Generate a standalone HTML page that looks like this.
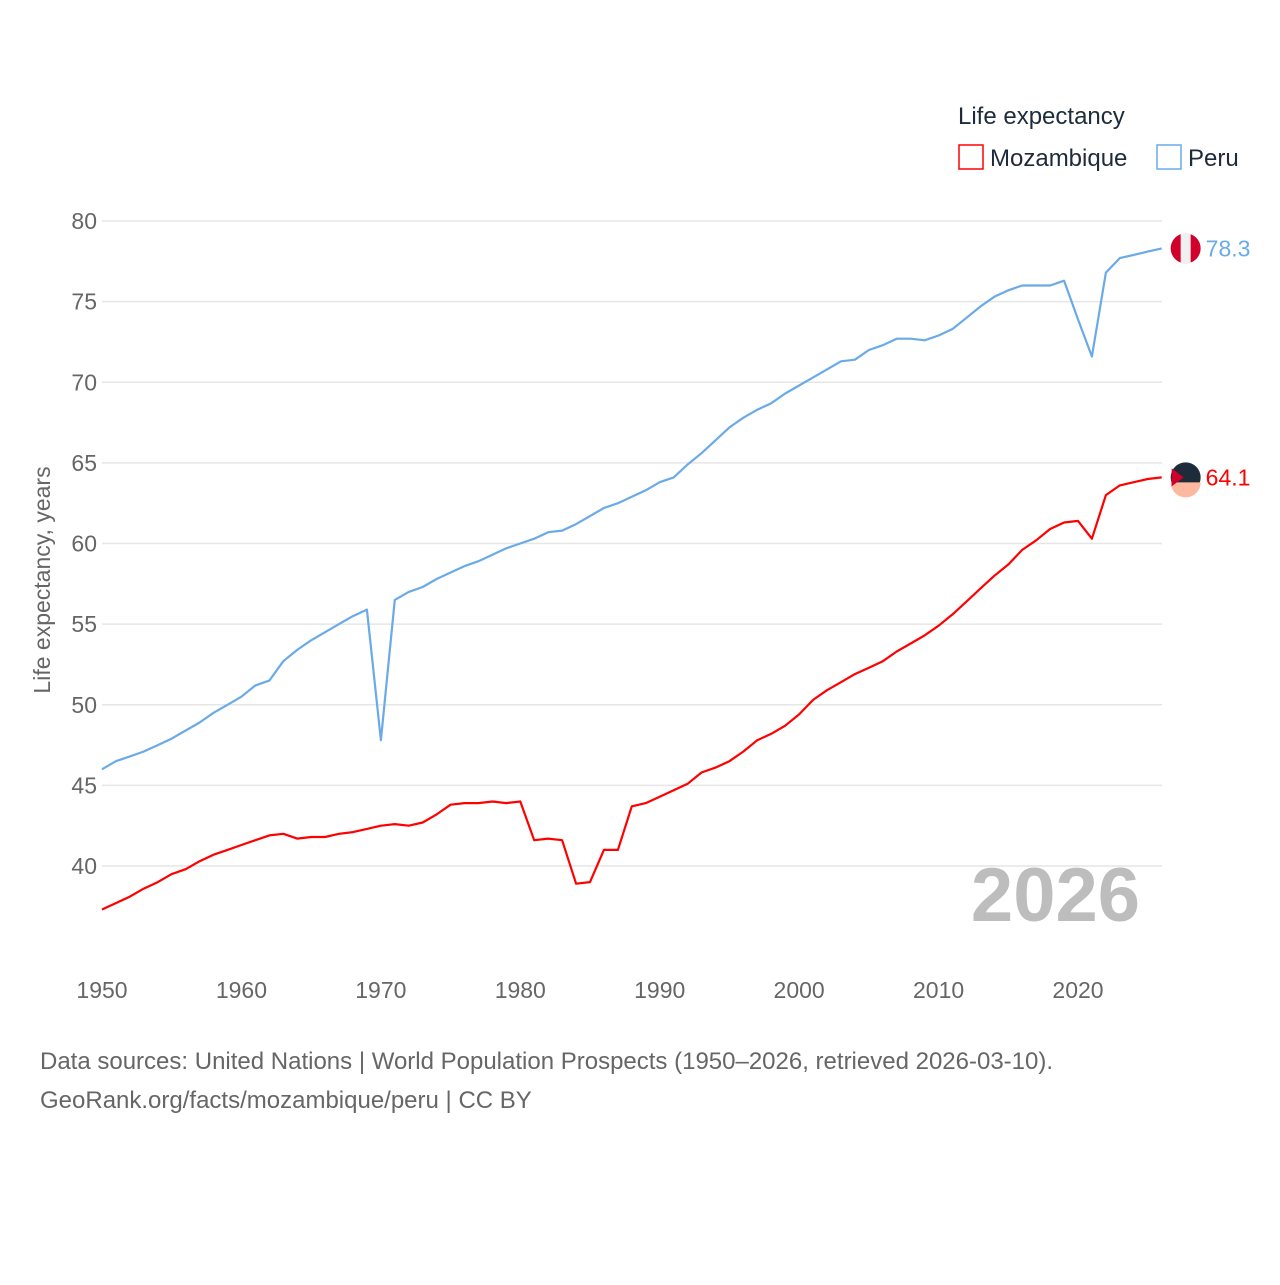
<!DOCTYPE html>
<html><head><meta charset="utf-8"><style>
body{margin:0;background:#fff;width:1280px;height:1280px;overflow:hidden;font-family:"Liberation Sans",sans-serif}
svg text{font-family:"Liberation Sans",sans-serif}
</style></head><body>
<svg id="chart" width="1280" height="1280" xmlns="http://www.w3.org/2000/svg">
<g id="grid"></g>
<g id="yticks"></g>
<g id="xticks"></g>
<text transform="translate(50,580) rotate(-90)" text-anchor="middle" font-size="23" fill="#666">Life expectancy, years</text>
<text x="1140" y="921" text-anchor="end" font-size="76" font-weight="bold" fill="#bdbdbd">2026</text>
<g id="series"></g>
<g>
<text x="958" y="124" font-size="24" fill="#1d2b3a">Life expectancy</text>
<rect x="959" y="145" width="24" height="24" fill="none" stroke="#ff0000" stroke-width="1.5"/>
<text x="990" y="166" font-size="24" fill="#1d2b3a">Mozambique</text>
<rect x="1157" y="145" width="24" height="24" fill="none" stroke="#6aaae8" stroke-width="1.5"/>
<text x="1188" y="166" font-size="24" fill="#1d2b3a">Peru</text>
</g>
<text x="40" y="1069" font-size="24" fill="#666">Data sources: United Nations | World Population Prospects (1950–2026, retrieved 2026-03-10).</text>
<text x="40" y="1108" font-size="24" fill="#666">GeoRank.org/facts/mozambique/peru | CC BY</text>
</svg>
<script>
const years=[];for(let y=1950;y<=2026;y++)years.push(y);
const peru=[46.0,46.5,46.8,47.1,47.5,47.9,48.4,48.9,49.5,50.0,50.5,51.2,51.5,52.7,53.4,54.0,54.5,55.0,55.5,55.9,47.8,56.5,57.0,57.3,57.8,58.2,58.6,58.9,59.3,59.7,60.0,60.3,60.7,60.8,61.2,61.7,62.2,62.5,62.9,63.3,63.8,64.1,64.9,65.6,66.4,67.2,67.8,68.3,68.7,69.3,69.8,70.3,70.8,71.3,71.4,72.0,72.3,72.7,72.7,72.6,72.9,73.3,74.0,74.7,75.3,75.7,76.0,76.0,76.0,76.3,73.9,71.6,76.8,77.7,77.9,78.1,78.3];
const mozambique=[37.3,37.7,38.1,38.6,39.0,39.5,39.8,40.3,40.7,41.0,41.3,41.6,41.9,42.0,41.7,41.8,41.8,42.0,42.1,42.3,42.5,42.6,42.5,42.7,43.2,43.8,43.9,43.9,44.0,43.9,44.0,41.6,41.7,41.6,38.9,39.0,41.0,41.0,43.7,43.9,44.3,44.7,45.1,45.8,46.1,46.5,47.1,47.8,48.2,48.7,49.4,50.3,50.9,51.4,51.9,52.3,52.7,53.3,53.8,54.3,54.9,55.6,56.4,57.2,58.0,58.7,59.6,60.2,60.9,61.3,61.4,60.3,63.0,63.6,63.8,64.0,64.1];
const yTicks=[40,45,50,55,60,65,70,75,80];
const xTicks=[1950,1960,1970,1980,1990,2000,2010,2020];
const NS="http://www.w3.org/2000/svg";
const xs=y=>102+(y-1950)*(1078-102)/70;
const ys=v=>221+(80-v)*(866-221)/40;
function mk(tag,attrs,parent){const e=document.createElementNS(NS,tag);for(const k in attrs)e.setAttribute(k,attrs[k]);parent.appendChild(e);return e;}
const grid=document.getElementById('grid'),yt=document.getElementById('yticks'),xt=document.getElementById('xticks'),ser=document.getElementById('series');
yTicks.forEach(v=>{
 const l=mk('line',{x1:102,x2:1162,y1:ys(v),y2:ys(v),stroke:'#e6e6e6','stroke-width':1.5},grid);
 
 
 const t=mk('text',{x:97,y:ys(v)+8,'text-anchor':'end','font-size':23,fill:'#666'},yt);t.textContent=v;
 
 
});
xTicks.forEach(v=>{
 const t=mk('text',{x:xs(v),y:998,'text-anchor':'middle','font-size':23,fill:'#666'},xt);t.textContent=v;
 
 
});
function line(data,color,name){
 const d=data.map((v,i)=>(i?'L':'M')+xs(years[i]).toFixed(1)+','+ys(v).toFixed(1)).join('');
 const p=mk('path',{d:d,fill:'none',stroke:color,'stroke-width':2.2,'stroke-linejoin':'round'},ser);
 
 
 const last=data[data.length-1],lx=xs(years[years.length-1]),ly=ys(last);
 const c=mk('circle',{cx:lx+24,cy:ly,r:15,fill:color==='#ff0000'?'#1d2b3a':'#d1002a'},ser);
 
 
 if(name==='peru'){const r=mk('rect',{x:lx+19,y:ly-15,width:10,height:30,fill:'#f0f0f0'},ser);}
 else{const r=mk('path',{d:`M${lx+9},${ly+5}h30a15,15 0 0 1 -30,0z`,fill:'#fdb9a0'},ser);
  const t2=mk('path',{d:`M${lx+10},${ly-9}L${lx+22},${ly}L${lx+10},${ly+9}z`,fill:'#d1002a'},ser);}
 const t=mk('text',{x:lx+44,y:ly+8,'font-size':23,fill:color},ser);t.textContent=last.toFixed(1);
 
 
}
line(peru,'#6aaae8','peru');
line(mozambique,'#ff0000','mozambique');
</script>
</body></html>
